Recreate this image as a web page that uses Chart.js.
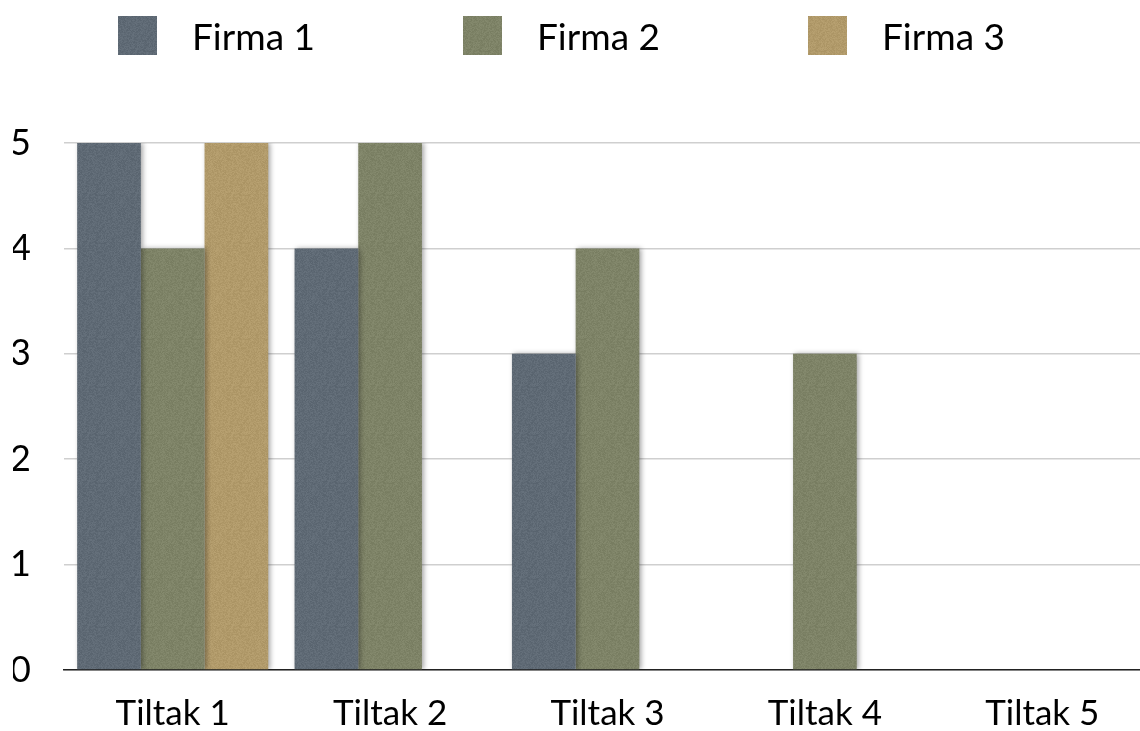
<!DOCTYPE html>
<html>
<head>
<meta charset="utf-8">
<script src="https://cdn.jsdelivr.net/npm/chart.js@4/dist/chart.umd.min.js"></script>
<style>
  html, body { margin: 0; padding: 0; background: #fff; overflow: hidden; }
  /* the original plot runs a little past the right edge of the picture */
  #wrap { width: 1140px; height: 731px; overflow: hidden; }
</style>
</head>
<body>
<div id="wrap"><canvas id="chart" width="1151" height="731"></canvas></div>
<script>
// ---- data ----
const categories = ["Tiltak 1", "Tiltak 2", "Tiltak 3", "Tiltak 4", "Tiltak 5"];
const seriesNames = ["Firma 1", "Firma 2", "Firma 3"];
const firma1 = [5, 4, 3, 0, 0];
const firma2 = [4, 5, 4, 3, 0];
const firma3 = [5, 0, 0, 0, 0];
const yTicks = [0, 1, 2, 3, 4, 5];

const baseColors = ["#5f6a75", "#7e8367", "#b19a6a"];
const FONT = "Lato, 'Open Sans', sans-serif";

// small felt-like texture so the bars are not flat (deterministic hash, style only)
function texture(hex) {
  const c = document.createElement("canvas");
  c.width = 48; c.height = 48;
  const g = c.getContext("2d");
  g.fillStyle = hex;
  g.fillRect(0, 0, 48, 48);
  const img = g.getImageData(0, 0, 48, 48);
  for (let y = 0; y < 48; y++) {
    for (let x = 0; x < 48; x++) {
      let h = (x * 374761393 + y * 668265263) | 0;
      h = (h ^ (h >>> 13)) * 1274126177 | 0;
      const n = ((h >>> 0) % 15) - 7;
      const i = (y * 48 + x) * 4;
      img.data[i] += n; img.data[i + 1] += n; img.data[i + 2] += n;
    }
  }
  g.putImageData(img, 0, 0);
  return g.createPattern(c, "repeat");
}
const fills = baseColors.map(texture);

// soft drop shadow behind the bars
const barShadow = {
  id: "barShadow",
  beforeDatasetsDraw(chart) {
    const ctx = chart.ctx;
    ctx.save();
    ctx.shadowColor = "rgba(0,0,0,0.35)";
    ctx.shadowBlur = 5;
    ctx.shadowOffsetX = 2;
    ctx.shadowOffsetY = 0;
  },
  afterDatasetsDraw(chart) {
    chart.ctx.restore();
  }
};

// legend row across the top, spread out like the original
const topLegend = {
  id: "topLegend",
  afterDraw(chart) {
    const ctx = chart.ctx;
    const box = 39, pitch = 345, startX = 118;
    ctx.save();
    ctx.font = "37px " + FONT;
    ctx.textBaseline = "alphabetic";
    chart.data.datasets.forEach((ds, i) => {
      const x = startX + i * pitch;
      ctx.fillStyle = fills[i];
      ctx.fillRect(x, 16, box, box);
      ctx.fillStyle = "#000";
      ctx.fillText(ds.label, x + box + 35, 50);
    });
    ctx.restore();
  }
};

new Chart(document.getElementById("chart"), {
  type: "bar",
  data: {
    labels: categories,
    datasets: [
      { label: seriesNames[0], data: firma1, backgroundColor: fills[0] },
      { label: seriesNames[1], data: firma2, backgroundColor: fills[1] },
      { label: seriesNames[2], data: firma3, backgroundColor: fills[2] }
    ]
  },
  options: {
    responsive: false,
    animation: false,
    layout: { padding: { top: 143, left: 13, right: 0, bottom: 0 } },
    datasets: { bar: { barPercentage: 1, categoryPercentage: 0.879, borderWidth: 0 } },
    plugins: { legend: { display: false }, tooltip: { enabled: false } },
    scales: {
      x: {
        grid: { display: false },
        border: { display: true, color: "#222", width: 1.5 },
        ticks: { color: "#000", font: { family: FONT, size: 35 }, padding: 15 },
        afterFit(s) { s.height = 61; }
      },
      y: {
        min: yTicks[0],
        max: yTicks[yTicks.length - 1],
        border: { display: false },
        grid: { color: "#cfcfcf", lineWidth: 1.5, drawTicks: false },
        ticks: { color: "#000", font: { family: FONT, size: 36 }, padding: 33, stepSize: 1 },
        afterFit(s) { s.width = 51; }
      }
    }
  },
  plugins: [barShadow, topLegend]
});
</script>
</body>
</html>
